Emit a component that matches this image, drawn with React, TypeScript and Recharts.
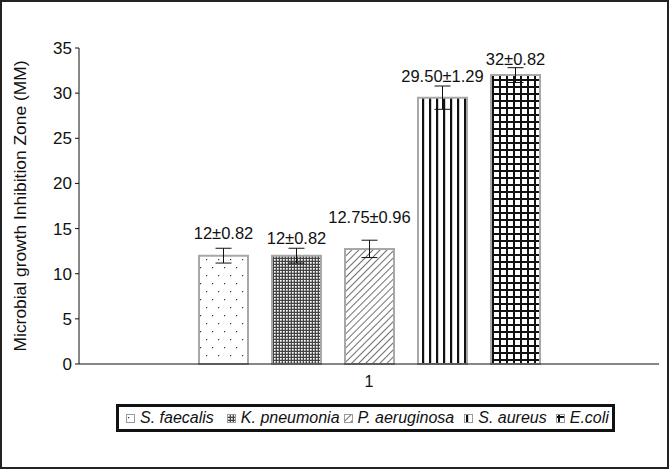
import React from "react";
import {
  BarChart,
  Bar,
  XAxis,
  YAxis,
  ErrorBar,
  LabelList,
} from "recharts";

const categories = ["1"];
const species = ["S. faecalis", "K. pneumonia", "P. aeruginosa", "S. aureus", "E.coli"];
const means = [12, 12, 12.75, 29.5, 32];
const sds = [0.82, 0.82, 0.96, 1.29, 0.82];
const valueLabels = ["12±0.82", "12±0.82", "12.75±0.96", "29.50±1.29", "32±0.82"];
const yTicks = [0, 5, 10, 15, 20, 25, 30, 35];

const keys = ["sf", "kp", "pa", "sa", "ec"];
const patternIds = ["patDots", "patCheck", "patHatch", "patVert", "patGrid"];
// how far each value label sits above its error bar (px)
const labelLift = [15, 10, 23, 10, 9];
// spacing after each legend entry (px)
const legendGaps = [13, 4, 10, 9, 0];

const FONT = "'Liberation Sans', Arial, sans-serif";

const chartData = categories.map((c) => {
  const row: Record<string, number | string> = { name: c };
  keys.forEach((k, i) => {
    row[k] = means[i];
    row[k + "Err"] = sds[i];
  });
  return row;
});

function Patterns() {
  return (
    <defs>
      <pattern id="patDots" width="12" height="16" patternUnits="userSpaceOnUse">
        <rect width="12" height="16" fill="#fff" />
        <rect x="2" y="3" width="1.2" height="1.2" fill="#333" />
        <rect x="8" y="11" width="1.2" height="1.2" fill="#333" />
      </pattern>
      <pattern id="patCheck" width="3" height="3" patternUnits="userSpaceOnUse">
        <rect width="3" height="3" fill="#444" />
        <rect x="1" y="1" width="1.7" height="1.7" fill="#fff" />
      </pattern>
      <pattern
        id="patHatch"
        width="5"
        height="5"
        patternUnits="userSpaceOnUse"
        patternTransform="rotate(45)"
      >
        <rect width="5" height="5" fill="#fff" />
        <line x1="0" y1="0" x2="0" y2="5" stroke="#222" strokeWidth="1.3" />
      </pattern>
      <pattern id="patVert" width="7" height="7" patternUnits="userSpaceOnUse">
        <rect width="7" height="7" fill="#fff" />
        <rect x="2" y="0" width="2.2" height="7" fill="#111" />
      </pattern>
      <pattern id="patGrid" width="7" height="7" patternUnits="userSpaceOnUse">
        <rect width="7" height="7" fill="#fff" />
        <rect x="2" y="0" width="2" height="7" fill="#111" />
        <rect x="0" y="2" width="7" height="2" fill="#111" />
      </pattern>
    </defs>
  );
}

function makeLabel(i: number) {
  return (props: any) => {
    const { x, y, width, height } = props;
    const perUnit = height / means[i];
    const errTop = y - sds[i] * perUnit;
    return (
      <text
        x={x + width / 2}
        y={errTop - labelLift[i] + 6}
        textAnchor="middle"
        fontSize={16.5}
        fontFamily={FONT}
        fill="#111"
      >
        {valueLabels[i]}
      </text>
    );
  };
}

function YLabel(props: any) {
  const { viewBox } = props;
  const cy = viewBox.y + viewBox.height / 2;
  return (
    <text
      x={20}
      y={cy}
      transform={`rotate(-90, 20, ${cy})`}
      textAnchor="middle"
      dominantBaseline="central"
      fontSize={17.4}
      fontFamily={FONT}
      fill="#111"
    >
      Microbial growth Inhibition Zone (MM)
    </text>
  );
}

function LegendBox() {
  return (
    <div
      style={{
        position: "absolute",
        left: 116,
        top: 404,
        width: 499,
        height: 28,
        boxSizing: "border-box",
        border: "3px solid #111",
        background: "#fff",
        display: "flex",
        alignItems: "center",
        paddingLeft: 7,
        fontFamily: FONT,
        fontStyle: "italic",
        fontSize: 16,
        color: "#111",
        whiteSpace: "nowrap",
      }}
    >
      {species.map((s, i) => (
        <div
          key={s}
          style={{
            display: "flex",
            alignItems: "center",
            gap: 5,
            flexShrink: 0,
            marginRight: legendGaps[i],
          }}
        >
          <svg width={9} height={9}>
            <rect
              x={0.5}
              y={0.5}
              width={8}
              height={8}
              fill={`url(#${patternIds[i]})`}
              stroke="#999"
              strokeWidth={1}
            />
          </svg>
          <span>{s}</span>
        </div>
      ))}
    </div>
  );
}

export default function App() {
  return (
    <div
      style={{
        position: "absolute",
        left: 0,
        top: 0,
        width: 669,
        height: 469,
        background: "#fff",
        overflow: "hidden",
      }}
    >
      <BarChart
        width={669}
        height={469}
        data={chartData}
        margin={{ top: 48, right: 10, left: 0, bottom: 75 }}
        barCategoryGap={120}
        barGap={24}
      >
        <Patterns />
        <XAxis
          dataKey="name"
          axisLine={{ stroke: "#111" }}
          tickLine={false}
          height={30}
          tick={{ fontSize: 16, fill: "#111", fontFamily: FONT }}
          tickMargin={6}
        />
        <XAxis
          xAxisId="top"
          dataKey="name"
          orientation="top"
          height={0}
          tick={false}
          tickLine={false}
          axisLine={{ stroke: "#111" }}
        />
        <YAxis
          domain={[0, 35]}
          ticks={yTicks}
          width={79}
          interval={0}
          axisLine={{ stroke: "#111" }}
          tickLine={{ stroke: "#111" }}
          tickSize={4}
          tickMargin={3}
          tick={{ fontSize: 17, fill: "#111", fontFamily: FONT }}
          label={<YLabel />}
        />
        <YAxis
          yAxisId="right"
          orientation="right"
          domain={[0, 35]}
          width={0}
          tick={false}
          tickLine={false}
          axisLine={{ stroke: "#111" }}
        />
        {keys.map((k, i) => (
          <Bar
            key={k}
            dataKey={k}
            name={species[i]}
            fill={`url(#${patternIds[i]})`}
            stroke="#a8a8a8"
            strokeWidth={2}
            isAnimationActive={false}
          >
            <ErrorBar
              dataKey={k + "Err"}
              width={8}
              stroke="#111"
              strokeWidth={1}
              direction="y"
            />
            <LabelList dataKey={k} content={makeLabel(i)} />
          </Bar>
        ))}
      </BarChart>
      <LegendBox />
      <div
        style={{
          position: "absolute",
          left: 0,
          top: 0,
          width: 669,
          height: 469,
          boxSizing: "border-box",
          border: "2px solid #222",
          pointerEvents: "none",
        }}
      />
    </div>
  );
}
